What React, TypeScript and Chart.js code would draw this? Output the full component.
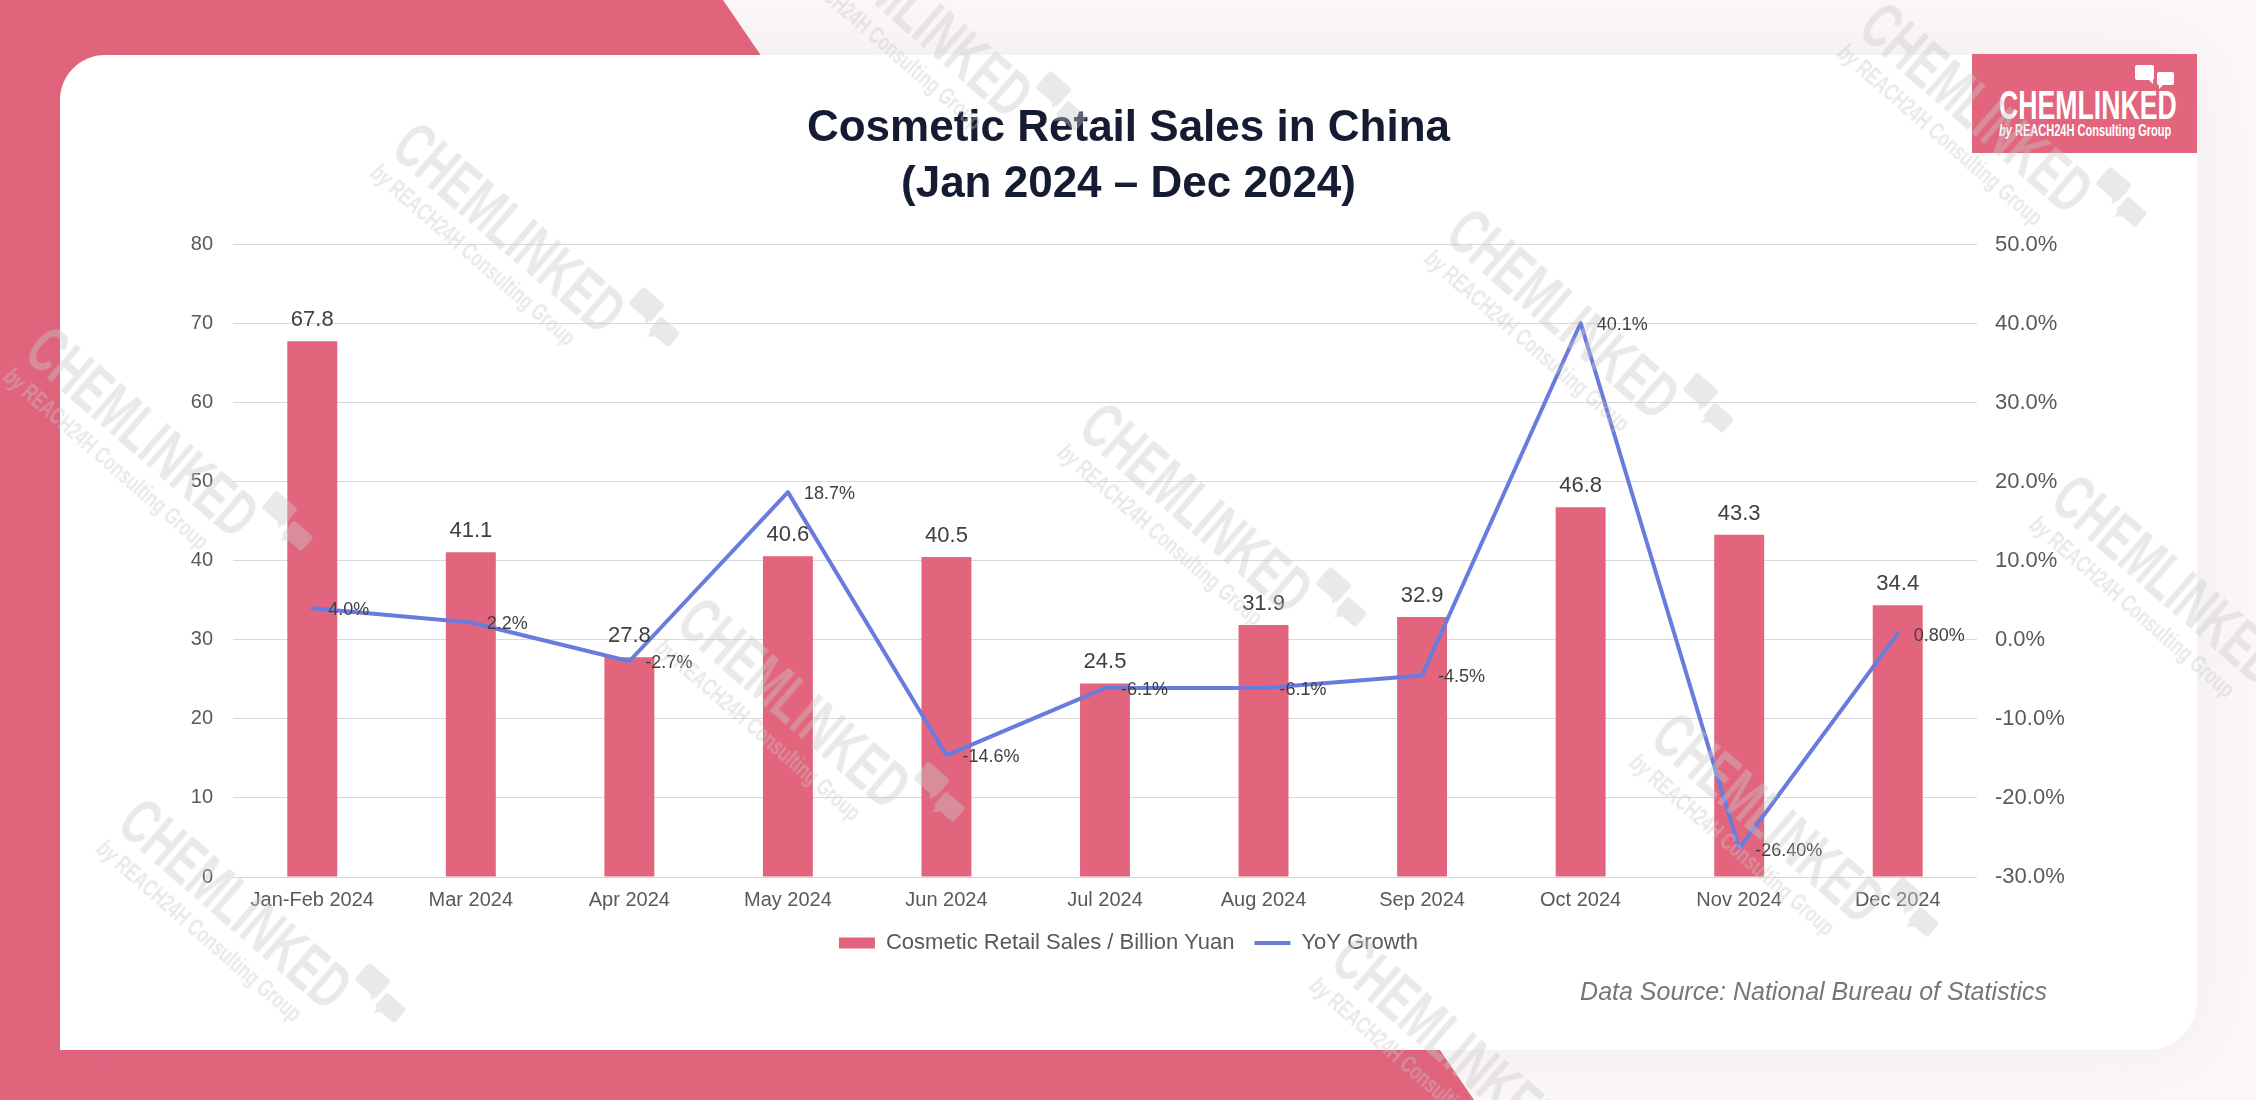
import { useEffect, useRef } from "react";
import { Chart, registerables } from "chart.js";

Chart.register(...registerables);

// ---- data ----
const months = [
  "Jan-Feb 2024",
  "Mar 2024",
  "Apr 2024",
  "May 2024",
  "Jun 2024",
  "Jul 2024",
  "Aug 2024",
  "Sep 2024",
  "Oct 2024",
  "Nov 2024",
  "Dec 2024",
];
const retailSales = [67.8, 41.1, 27.8, 40.6, 40.5, 24.5, 31.9, 32.9, 46.8, 43.3, 34.4];
const yoyGrowth = [4.0, 2.2, -2.7, 18.7, -14.6, -6.1, -6.1, -4.5, 40.1, -26.4, 0.8];
const yoyGrowthLabels = ["4.0%", "2.2%", "-2.7%", "18.7%", "-14.6%", "-6.1%", "-6.1%", "-4.5%", "40.1%", "-26.40%", "0.80%"];
const salesTicks = ["0", "10", "20", "30", "40", "50", "60", "70", "80"];
const growthTicks = ["-30.0%", "-20.0%", "-10.0%", "0.0%", "10.0%", "20.0%", "30.0%", "40.0%", "50.0%"];

// ---- styling ----
const FONT = "'Liberation Sans', Arial, Helvetica, sans-serif";
const PINK = "#E2657D";
const BLUE = "#6A7BDE";
const AXIS_TEXT = "#595959";
const VALUE_TEXT = "#404040";
const GRID = "#D9D9D9";
const TITLE = "#161B34";
const PAGE_BG = "#FBF7F8";

// value labels above bars and beside the growth line, plus the source note
const valueLabels = {
  id: "valueLabels",
  afterDatasetsDraw(chart: any) {
    const ctx = chart.ctx;
    ctx.save();
    ctx.fillStyle = VALUE_TEXT;
    ctx.textBaseline = "middle";

    ctx.font = `22px ${FONT}`;
    ctx.textAlign = "center";
    chart.getDatasetMeta(0).data.forEach((el: any, i: number) => {
      ctx.fillText(retailSales[i].toFixed(1), el.x, el.y - 21);
    });

    ctx.font = `18px ${FONT}`;
    ctx.textAlign = "left";
    chart.getDatasetMeta(1).data.forEach((el: any, i: number) => {
      ctx.fillText(yoyGrowthLabels[i], el.x + 16, el.y + 2);
    });

    const area = chart.chartArea;
    ctx.font = `italic 25px ${FONT}`;
    ctx.fillStyle = "#767676";
    ctx.textAlign = "right";
    ctx.fillText("Data Source: National Bureau of Statistics", area.right + 70, area.bottom + 116);
    ctx.restore();
  },
};

function Bubbles({ scale = 1, color = "#fff" }: { scale?: number; color?: string }) {
  const s = (v: number) => v * scale;
  return (
    <div style={{ position: "relative", width: s(40), height: s(24) }}>
      <div style={{ position: "absolute", left: 0, top: 0, width: s(19), height: s(15), background: color, borderRadius: s(2) }} />
      <div
        style={{
          position: "absolute",
          left: s(13),
          top: s(14),
          width: 0,
          height: 0,
          borderLeft: `${s(5)}px solid transparent`,
          borderTop: `${s(5)}px solid ${color}`,
        }}
      />
      <div style={{ position: "absolute", left: s(22), top: s(7), width: s(17), height: s(13), background: color, borderRadius: s(2) }} />
      <div
        style={{
          position: "absolute",
          left: s(24),
          top: s(19),
          width: 0,
          height: 0,
          borderRight: `${s(5)}px solid transparent`,
          borderTop: `${s(5)}px solid ${color}`,
        }}
      />
    </div>
  );
}

const watermarkSpots = [
  [921, 36],
  [514, 252],
  [1981, 132],
  [1568, 338],
  [1201, 532],
  [147, 456],
  [799, 727],
  [2173, 604],
  [1773, 842],
  [240, 928],
  [1453, 1065],
];

function Watermark({ x, y }: { x: number; y: number }) {
  const c = "rgb(200,200,200)";
  return (
    <div
      style={{
        position: "absolute",
        left: x,
        top: y,
        width: 360,
        height: 90,
        marginLeft: -180,
        marginTop: -45,
        transform: "rotate(41deg)",
        opacity: 0.4,
        color: c,
        pointerEvents: "none",
      }}
    >
      <div
        style={{
          position: "absolute",
          left: 20,
          top: 0,
          font: `bold 64px ${FONT}`,
          lineHeight: "60px",
          transform: "scaleX(0.66)",
          transformOrigin: "left top",
          whiteSpace: "nowrap",
        }}
      >
        CHEMLINKED
      </div>
      <div style={{ position: "absolute", left: 300, top: -14 }}>
        <Bubbles scale={1.5} color={c} />
      </div>
      <div
        style={{
          position: "absolute",
          left: 20,
          top: 60,
          font: `bold 24px ${FONT}`,
          transform: "scaleX(0.7)",
          transformOrigin: "left top",
          whiteSpace: "nowrap",
        }}
      >
        <i>by</i> REACH24H Consulting Group
      </div>
    </div>
  );
}

export default function App() {
  const canvasRef = useRef<HTMLCanvasElement>(null);

  useEffect(() => {
    document.body.style.margin = "0";
    document.body.style.overflow = "hidden";
    const chart = new Chart(canvasRef.current as HTMLCanvasElement, {
      type: "bar",
      data: {
        labels: months,
        datasets: [
          {
            type: "bar",
            label: "Cosmetic Retail Sales / Billion Yuan",
            data: retailSales,
            backgroundColor: PINK,
            yAxisID: "y",
            order: 2,
            barPercentage: 0.315,
            categoryPercentage: 1,
          },
          {
            type: "line",
            label: "YoY Growth",
            data: yoyGrowth,
            borderColor: BLUE,
            backgroundColor: BLUE,
            borderWidth: 4,
            pointRadius: 0,
            pointHoverRadius: 0,
            tension: 0,
            yAxisID: "y1",
            order: 1,
            borderJoinStyle: "round",
            borderCapStyle: "round",
          },
        ],
      } as any,
      options: {
        responsive: false,
        animation: false,
        layout: { padding: { top: 0, left: 0, right: 0, bottom: 86 } },
        plugins: {
          title: {
            display: true,
            text: ["Cosmetic Retail Sales in China", "(Jan 2024 \u2013 Dec 2024)"],
            color: TITLE,
            font: { family: FONT, size: 44, weight: "bold", lineHeight: 1.27 },
            padding: { top: 46, bottom: 32 },
          },
          legend: {
            position: "bottom",
            labels: {
              usePointStyle: true,
              pointStyleWidth: 36,
              boxHeight: 11,
              padding: 20,
              color: AXIS_TEXT,
              font: { family: FONT, size: 22 },
              generateLabels: () => [
                {
                  text: "Cosmetic Retail Sales / Billion Yuan",
                  fillStyle: PINK,
                  strokeStyle: PINK,
                  fontColor: AXIS_TEXT,
                  lineWidth: 0,
                  pointStyle: "rect",
                  datasetIndex: 0,
                  hidden: false,
                },
                {
                  text: "YoY Growth",
                  fillStyle: BLUE,
                  strokeStyle: BLUE,
                  fontColor: AXIS_TEXT,
                  lineWidth: 4,
                  pointStyle: "line",
                  datasetIndex: 1,
                  hidden: false,
                },
              ],
            },
          },
          tooltip: { enabled: false },
        },
        scales: {
          x: {
            grid: { display: false, drawTicks: false },
            border: { display: false },
            ticks: { color: AXIS_TEXT, font: { family: FONT, size: 20 }, padding: 11, maxRotation: 0, autoSkip: false },
            afterFit: (scale: any) => {
              scale.height = 35;
            },
          },
          y: {
            position: "left",
            min: 0,
            max: 80,
            grid: { color: GRID, lineWidth: 1, drawTicks: false },
            border: { display: false },
            ticks: {
              stepSize: 10,
              padding: 20,
              color: AXIS_TEXT,
              font: { family: FONT, size: 20 },
              callback: (_v: any, i: number) => salesTicks[i],
            },
            afterFit: (scale: any) => {
              scale.width = 173;
            },
          },
          y1: {
            position: "right",
            min: -30,
            max: 50,
            grid: { display: false, drawTicks: false },
            border: { display: false },
            ticks: {
              stepSize: 10,
              padding: 18,
              color: AXIS_TEXT,
              font: { family: FONT, size: 22 },
              callback: (_v: any, i: number) => growthTicks[i],
            },
            afterFit: (scale: any) => {
              scale.width = 220;
            },
          },
        },
      } as any,
      plugins: [valueLabels],
    });
    return () => chart.destroy();
  }, []);

  return (
    <div style={{ position: "absolute", left: 0, top: 0, width: 2256, height: 1100, overflow: "hidden", background: PAGE_BG }}>
      {/* slanted brand band */}
      <div
        style={{
          position: "absolute",
          inset: 0,
          background: PINK,
          clipPath: "polygon(0 0, 723px 0, 1474px 1100px, 0 1100px)",
        }}
      />
      {/* white card */}
      <div
        style={{
          position: "absolute",
          left: 60,
          top: 55,
          width: 2137,
          height: 995,
          background: "#fff",
          borderRadius: "45px 45px 50px 0",
          boxShadow: "0 0 60px rgba(110,90,110,0.07)",
        }}
      />
      <canvas ref={canvasRef} width={2137} height={995} style={{ position: "absolute", left: 60, top: 55, width: 2137, height: 995 }} />
      {/* brand badge */}
      <div style={{ position: "absolute", left: 1972, top: 54, width: 225, height: 99, background: PINK }}>
        <div style={{ position: "absolute", left: 163, top: 11 }}>
          <Bubbles scale={1} />
        </div>
        <div
          style={{
            position: "absolute",
            left: 27,
            top: 32,
            color: "#fff",
            font: `bold 41px ${FONT}`,
            lineHeight: "38px",
            transform: "scaleX(0.65)",
            transformOrigin: "left top",
            whiteSpace: "nowrap",
          }}
        >
          CHEMLINKED
        </div>
        <div
          style={{
            position: "absolute",
            left: 27,
            top: 68,
            color: "#fff",
            font: `bold 16px ${FONT}`,
            lineHeight: "18px",
            transform: "scaleX(0.69)",
            transformOrigin: "left top",
            whiteSpace: "nowrap",
          }}
        >
          <i>by</i> REACH24H Consulting Group
        </div>
      </div>
      {/* watermark overlay */}
      <div style={{ position: "absolute", inset: 0, pointerEvents: "none" }}>
        {watermarkSpots.map(([x, y], i) => (
          <Watermark key={i} x={x} y={y} />
        ))}
      </div>
    </div>
  );
}
